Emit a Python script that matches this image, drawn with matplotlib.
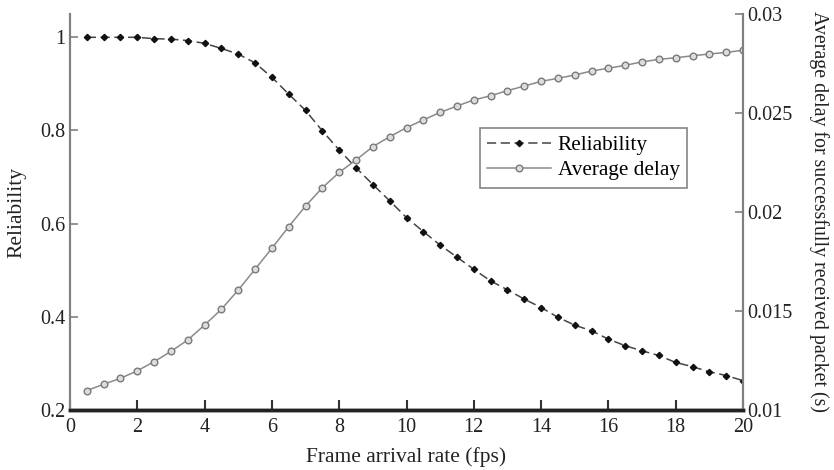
import matplotlib.pyplot as plt
import numpy as np

plt.rcParams["font.family"] = ["Liberation Serif", "DejaVu Serif"]

# ==========================
# DATA
# ==========================

rate = [0.5, 1, 1.5, 2, 2.5, 3, 3.5, 4, 4.5, 5,
        5.5, 6, 6.5, 7, 7.5, 8, 8.5, 9, 9.5, 10,
        10.5, 11, 11.5, 12, 12.5, 13, 13.5, 14, 14.5, 15,
        15.5, 16, 16.5, 17, 17.5, 18, 18.5, 19, 19.5, 20]

reliability = [1.0, 1.0, 1.0, 1.0, 0.997, 0.996, 0.993, 0.987, 0.976, 0.964,
               0.945, 0.914, 0.878, 0.843, 0.799, 0.758, 0.720, 0.684, 0.649, 0.613,
               0.583, 0.554, 0.528, 0.502, 0.477, 0.458, 0.438, 0.420, 0.399, 0.382,
               0.370, 0.352, 0.338, 0.327, 0.317, 0.302, 0.293, 0.282, 0.274, 0.263]

delay = [0.01098, 0.01130, 0.01160, 0.01198, 0.01244, 0.01296, 0.01354, 0.01429, 0.01509, 0.01606,
         0.01711, 0.01817, 0.01926, 0.02030, 0.02123, 0.02200, 0.02263, 0.02330, 0.02380, 0.02426,
         0.02465, 0.02503, 0.02535, 0.02566, 0.02587, 0.02613, 0.02636, 0.02660, 0.02675, 0.02692,
         0.02712, 0.02726, 0.02741, 0.02758, 0.02771, 0.02779, 0.02789, 0.02798, 0.02806, 0.02817]

x_ticks = [0, 2, 4, 6, 8, 10, 12, 14, 16, 18, 20]
left_ticks = [0.2, 0.4, 0.6, 0.8, 1.0]
left_labels = ["0.2", "0.4", "0.6", "0.8", "1"]
right_ticks = [0.01, 0.015, 0.02, 0.025, 0.03]
right_labels = ["0.01", "0.015", "0.02", "0.025", "0.03"]

# ==========================
# FIGURE
# ==========================

fig = plt.figure(figsize=(8.34, 4.70), dpi=100)
ax = fig.add_axes([70 / 834, 60 / 470, 673 / 834, 396 / 470])
ax2 = ax.twinx()

l1, = ax.plot(
    rate, reliability,
    linestyle=(0, (6, 3)), color="#444444", linewidth=1.1,
    marker="D", markersize=3.2, markerfacecolor="#111111",
    markeredgecolor="#111111", label="Reliability"
)

l2, = ax2.plot(
    rate, delay,
    linestyle="-", color="#8a8a8a", linewidth=1.1,
    marker="o", markersize=4.8, markerfacecolor="#dcdcdc",
    markeredgecolor="#7a7a7a", markeredgewidth=1.0, label="Average delay"
)

ax.set_xlim(0, 20)
ax.set_ylim(0.2, 1.05)
ax2.set_ylim(0.01, 0.03)

ax.set_xticks(x_ticks)
ax.set_yticks(left_ticks)
ax.set_yticklabels(left_labels)
ax2.set_yticks(right_ticks)
ax2.set_yticklabels(right_labels)

for a in (ax, ax2):
    a.spines["top"].set_visible(False)
    a.spines["left"].set_color("#808080")
    a.spines["right"].set_color("#808080")
    a.spines["left"].set_linewidth(1.5)
    a.spines["right"].set_linewidth(1.5)
    a.spines["bottom"].set_color("#222222")
    a.spines["bottom"].set_linewidth(2.5)

ax.tick_params(axis="x", direction="in", length=7, width=1.5, colors="#333333",
               labelsize=14.5, labelcolor="#222222", pad=6)
ax.tick_params(axis="y", direction="in", length=6, width=1.2, colors="#808080",
               labelsize=14.5, labelcolor="#222222", pad=3)
ax2.tick_params(axis="y", direction="in", length=6, width=1.2, colors="#808080",
                labelsize=14.5, labelcolor="#222222", pad=3)

ax.set_xlabel("Frame arrival rate (fps)", fontsize=15.5, color="#222222", labelpad=7)
ax.set_ylabel("Reliability", fontsize=15.5, color="#222222", labelpad=10)
ax2.set_ylabel("Average delay for successfully received packet (s)", fontsize=14.3,
               color="#222222", rotation=-90, labelpad=26)

leg = ax.legend(
    [l1, l2], ["Reliability", "Average delay"],
    loc="upper left", bbox_to_anchor=(410 / 673, 1 - 114 / 396),
    fontsize=15.3, frameon=True, fancybox=False, handlelength=3.0,
    borderpad=0.35, labelspacing=0.25, handletextpad=0.3, borderaxespad=0
)
leg.get_frame().set_edgecolor("#666666")
leg.get_frame().set_linewidth(1.2)

fig.savefig("out.png", dpi=100)
plt.close(fig)
